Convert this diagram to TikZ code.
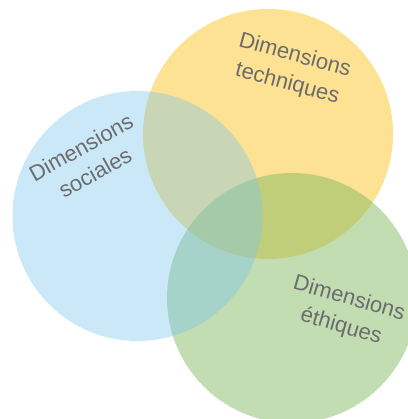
\documentclass[tikz,border=0pt]{standalone}
\usepackage{fontspec}
\setmainfont{Liberation Sans}
\usepackage{xcolor}

\definecolor{bleu}{RGB}{125,197,237}
\definecolor{jaune}{RGB}{249,197,37}
\definecolor{vert}{RGB}{133,187,101}
\definecolor{gristexte}{RGB}{108,108,108}

\begin{document}
\begin{tikzpicture}[
x=1pt, y=1pt,
bulle/.style={circle, minimum size=250pt, inner sep=0pt, fill opacity=0.5},
etiquette/.style={text=gristexte, align=center, font=\fontsize{22}{29}\selectfont},
]
\useasboundingbox (0,0) rectangle (407,419);
%% cercles
\node[bulle, fill=jaune] (T) at (268,285) {};
\node[bulle, fill=vert] (E) at (292,121) {};
\node[bulle, fill=bleu, fill opacity=0.4] (S) at (137.5,203) {};
%% textes
\node[etiquette, rotate=-15] (Ttxt) at (291,349) {Dimensions\\techniques};
\node[etiquette, rotate=29] (Stxt) at (88,259) {Dimensions\\sociales};
\node[etiquette, rotate=-16] (Etxt) at (345,106) {Dimensions\\éthiques};
\end{tikzpicture}
\end{document}
